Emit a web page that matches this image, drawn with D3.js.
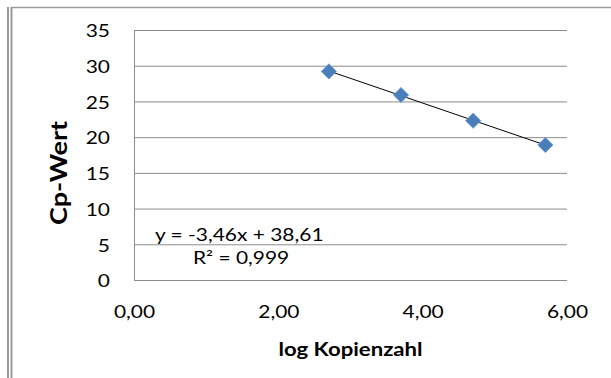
<!DOCTYPE html>
<html>
<head>
<meta charset="utf-8">
<script src="https://cdn.jsdelivr.net/npm/d3@7"></script>
<style>
  html, body { margin: 0; padding: 0; background: #fff; }
  svg { display: block; }
  text { font-family: Lato, "Open Sans", sans-serif; fill: #000; }
</style>
</head>
<body>
<svg id="chart" width="611" height="378"></svg>
<script>
// Standard curve: log copy number vs. Cp value
const logCopies = [2.70, 3.70, 4.70, 5.70];
const cpValues  = [29.2, 25.9, 22.3, 18.9];

// Linear trendline coefficients (as printed on the chart)
const slope = -3.46;
const intercept = 38.61;
const equationLabel = "y = -3,46x + 38,61";
const r2Label = "R² = 0,999";

const xTicks = [0, 2, 4, 6];
const yTicks = [0, 5, 10, 15, 20, 25, 30, 35];
const xTitle = "log Kopienzahl";
const yTitle = "Cp-Wert";

const W = 611, H = 378;
const plot = { left: 134, right: 567, top: 30, bottom: 280 };
const textWiden = 1.23;   // horizontal widening of all labels

const svg = d3.select("#chart");
const locale = d3.formatLocale({ decimal: ",", thousands: ".", grouping: [3], currency: ["", " €"] });
const fmt2 = locale.format(".2f");

const x = d3.scaleLinear().domain([0, 6]).range([plot.left, plot.right]);
const y = d3.scaleLinear().domain([0, 35]).range([plot.bottom, plot.top]);

// Frame lines of the surrounding sheet
const frame = svg.append("g").attr("stroke", "#9a9a9a").attr("fill", "none");
frame.append("line").attr("x1", 8).attr("x2", 8).attr("y1", 7).attr("y2", H).attr("stroke-width", 2);
frame.append("line").attr("x1", 11.5).attr("x2", 11.5).attr("y1", 7).attr("y2", H).attr("stroke-width", 2);
frame.append("line").attr("x1", 11).attr("x2", W).attr("y1", 7.5).attr("y2", 7.5).attr("stroke-width", 1.5);

// Horizontal gridlines + y tick labels
const yAxis = d3.axisLeft(y)
  .tickValues(yTicks)
  .tickSize(-(plot.right - plot.left))
  .tickPadding(24)
  .tickFormat(d3.format("d"));
const gy = svg.append("g").attr("transform", `translate(${plot.left},0)`).call(yAxis);
gy.select(".domain").remove();
gy.selectAll(".tick line").attr("stroke", "#8c8c8c").attr("stroke-width", 1);
gy.selectAll(".tick text").attr("font-size", 17).attr("fill", "#000").attr("dy", "0.4em")
  .style("font-family", "Lato, sans-serif");

// Vertical axis line
svg.append("line")
  .attr("x1", plot.left + 0.5).attr("x2", plot.left + 0.5)
  .attr("y1", plot.top).attr("y2", plot.bottom)
  .attr("stroke", "#8c8c8c");

// X tick labels (no tick marks)
const xAxis = d3.axisBottom(x)
  .tickValues(xTicks)
  .tickSize(0)
  .tickFormat(fmt2);
const gx = svg.append("g").attr("transform", `translate(0,${plot.bottom})`).call(xAxis);
gx.select(".domain").remove();
gx.selectAll(".tick text").attr("font-size", 17).attr("fill", "#000")
  .attr("y", 38).attr("dy", 0)
  .style("font-family", "Lato, sans-serif");

// Trendline across the data range
const xMin = d3.min(logCopies), xMax = d3.max(logCopies);
svg.append("line")
  .attr("x1", x(xMin)).attr("y1", y(slope * xMin + intercept))
  .attr("x2", x(xMax)).attr("y2", y(slope * xMax + intercept))
  .attr("stroke", "#000").attr("stroke-width", 1);

// Diamond markers
const diamond = d3.symbol().type(d3.symbolSquare).size(116);
svg.append("g").selectAll("path")
  .data(logCopies.map((v, i) => [v, cpValues[i]]))
  .join("path")
  .attr("d", diamond)
  .attr("transform", d => `translate(${x(d[0])},${y(d[1])}) rotate(45)`)
  .attr("fill", "#4a7ebb")
  .attr("stroke", "#6f9bd0")
  .attr("stroke-width", 0.8);

// Trendline equation and R²
svg.append("text").attr("x", 155).attr("y", 241).attr("font-size", 17).text(equationLabel);
svg.append("text").attr("x", 193).attr("y", 264).attr("font-size", 17).text(r2Label);

// Axis titles
svg.append("text")
  .attr("x", (plot.left + plot.right) / 2).attr("y", 356)
  .attr("text-anchor", "middle").attr("font-size", 18).attr("font-weight", "bold")
  .text(xTitle);
svg.append("text")
  .attr("transform", `translate(67,173) rotate(-90)`)
  .attr("text-anchor", "middle").attr("font-size", 22).attr("font-weight", "bold")
  .text(yTitle);

// Widen every label along its baseline
svg.selectAll("text").each(function () {
  const w = this.getComputedTextLength();
  d3.select(this).attr("textLength", w * textWiden).attr("lengthAdjust", "spacingAndGlyphs");
});
</script>
</body>
</html>
